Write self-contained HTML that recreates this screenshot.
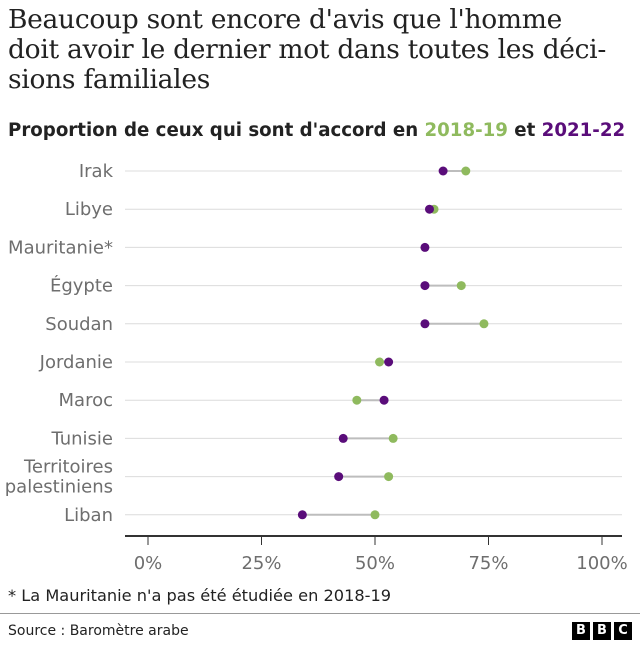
<!DOCTYPE html>
<html><head><meta charset="utf-8">
<style>
body{margin:0;width:640px;height:649px;background:#fff;font-family:"DejaVu Sans","Liberation Sans",sans-serif;overflow:hidden;position:relative}
.t{position:absolute;left:8px;top:5px;font-family:"DejaVu Serif","Liberation Serif",serif;font-size:26.5px;line-height:30px;color:#222;white-space:nowrap;letter-spacing:-0.3px}
.s{position:absolute;left:8px;top:120px;font-weight:bold;font-size:18.2px;color:#222;white-space:nowrap}
svg{position:absolute;left:0;top:0}
</style></head><body>
<div class="t">Beaucoup sont encore d'avis que l'homme<br>doit avoir le dernier mot dans toutes les déci-<br>sions familiales</div>
<div class="s">Proportion de ceux qui sont d'accord en <span style="color:#8fba5e">2018-19</span> et <span style="color:#5a0d7a">2021-22</span></div>
<svg id="c" width="640" height="649"></svg>
<script>
const countries=["Irak","Libye","Mauritanie*","Égypte","Soudan","Jordanie","Maroc","Tunisie","Territoires palestiniens","Liban"];
const v2018=[70,63,null,69,74,51,46,54,53,50];
const v2021=[65,62,61,61,61,53,52,43,42,34];
const ticks=[0,25,50,75,100];
const NS="http://www.w3.org/2000/svg",svg=document.getElementById('c');
const F='DejaVu Sans, Liberation Sans, sans-serif';
const x=v=>148+v*4.54, y=i=>171+i*38.2;
function el(t,a,txt){const e=document.createElementNS(NS,t);for(const k in a)e.setAttribute(k,a[k]);if(txt!=null)e.textContent=txt;svg.appendChild(e);return e;}
countries.forEach((c,i)=>{
 const g=el('line',{x1:125,x2:622,y1:y(i),y2:y(i),stroke:'#dcdcdc','stroke-width':1});
 
 
 const lines=c==="Territoires palestiniens"?["Territoires","palestiniens"]:[c];
 lines.forEach((l,j)=>{
  const t=el('text',{x:113,y:y(i)+6+(lines.length>1?(j-0.5)*20:0),'text-anchor':'end','font-size':18,fill:'#6e6e6e','font-family':F},l);
  
  
 });
 if(v2018[i]!=null){
  const l=el('line',{x1:x(v2018[i]),x2:x(v2021[i]),y1:y(i),y2:y(i),stroke:'#bdbdbd','stroke-width':2});
  
  
  const a=el('circle',{cx:x(v2018[i]),cy:y(i),r:4.5,fill:'#8fba5e'});
  
  
 }
 const b=el('circle',{cx:x(v2021[i]),cy:y(i),r:4.5,fill:'#5a0d7a'});
 
 
});
const ax=el('line',{x1:125,x2:622,y1:536,y2:536,stroke:'#333','stroke-width':2});


ticks.forEach(t=>{
 const tk=el('line',{x1:x(t),x2:x(t),y1:537,y2:545,stroke:'#333','stroke-width':1});
 
 
 const lb=el('text',{x:x(t),y:569,'text-anchor':'middle','font-size':18,fill:'#6e6e6e','font-family':F},t+'%');
 
 
});
</script>
<div style="position:absolute;left:8px;top:586px;font-size:16.2px;color:#222">* La Mauritanie n'a pas été étudiée en 2018-19</div>
<div style="position:absolute;left:0;top:613px;width:640px;height:1px;background:#999"></div>
<div style="position:absolute;left:8px;top:623px;font-size:14px;color:#222">Source : Baromètre arabe</div>
<div style="position:absolute;left:572px;top:622px;display:flex;gap:3px">
<div style="width:18px;height:18px;background:#000;color:#fff;font-weight:bold;font-size:13px;text-align:center;line-height:18px">B</div>
<div style="width:18px;height:18px;background:#000;color:#fff;font-weight:bold;font-size:13px;text-align:center;line-height:18px">B</div>
<div style="width:18px;height:18px;background:#000;color:#fff;font-weight:bold;font-size:13px;text-align:center;line-height:18px">C</div>
</div>
</body></html>
